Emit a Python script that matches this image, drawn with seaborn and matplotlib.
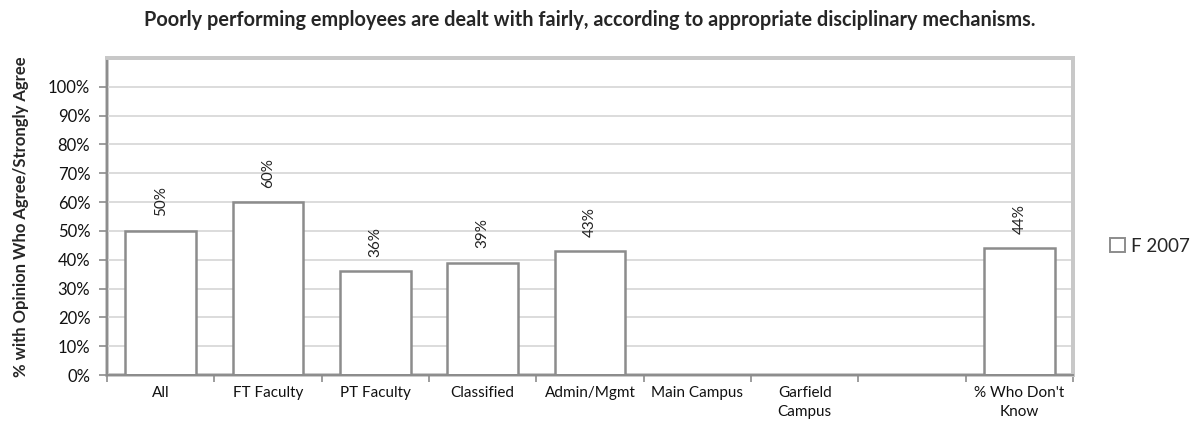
import numpy as np
import pandas as pd
import matplotlib
matplotlib.use("Agg")
import matplotlib.pyplot as plt
from matplotlib.patches import Patch, Rectangle
import seaborn as sns

# Survey question results
title = "Poorly performing employees are dealt with fairly, according to appropriate disciplinary mechanisms."
categories = ["All", "FT Faculty", "PT Faculty", "Classified", "Admin/Mgmt",
              "Main Campus", "Garfield\nCampus", " ", "% Who Don't\nKnow"]
values = [50, 60, 36, 39, 43, np.nan, np.nan, np.nan, 44]
series_name = "F 2007"
y_ticks = [0, 10, 20, 30, 40, 50, 60, 70, 80, 90, 100]
y_label = "% with Opinion Who Agree/Strongly Agree"

df = pd.DataFrame({"Group": categories, "Pct": values, "Survey": series_name})

sns.set_theme(style="white")
plt.rcParams["font.family"] = ["Lato", "DejaVu Sans"]

fig = plt.figure(figsize=(12.04, 4.34), dpi=100)
ax = fig.add_axes([107 / 1204, 1 - 375 / 434, (1073 - 107) / 1204, (375 - 58) / 434])

edge = "#8c8c8c"
sns.barplot(data=df, x="Group", y="Pct", hue="Survey", order=categories,
            width=0.66, color="white", palette=["white"], edgecolor=edge,
            linewidth=1.8, legend=False, ax=ax)

ax.set_ylim(0, 110)
ax.set_xlim(-0.5, len(categories) - 0.5)
ax.set_yticks(y_ticks)
ax.set_yticklabels([f"{t}%" for t in y_ticks], fontsize=12, color="#111111")
ax.yaxis.grid(True, color="#d9d9d9", linewidth=1.3)
ax.set_axisbelow(True)

# category labels at centres, tick marks on category boundaries
ax.set_xticks(range(len(categories)))
ax.set_xticklabels(categories, fontsize=11, linespacing=1.45, color="#111111")
ax.tick_params(axis="x", which="major", length=0, pad=8)
ax.set_xticks(np.arange(-0.5, len(categories), 1.0), minor=True)
ax.tick_params(axis="x", which="minor", length=5, width=1.2, color=edge, direction="out")
ax.tick_params(axis="y", length=6, width=1.2, color=edge, direction="out", pad=6)
ax.xaxis.set_ticks_position("bottom")
ax.yaxis.set_ticks_position("left")

ax.set_xlabel("")
ax.set_ylabel(y_label, fontsize=12, fontweight="bold", labelpad=14)

# plot-area border plus darker value/category axes
for side in ["top", "right"]:
    ax.spines[side].set_color("#c8c8c8")
    ax.spines[side].set_linewidth(2.8)
ax.spines["left"].set_color(edge)
ax.spines["left"].set_linewidth(1.4)
ax.spines["bottom"].set_color(edge)
ax.spines["bottom"].set_linewidth(1.4)
ax.add_patch(Rectangle((0, 0), 1, 1, transform=ax.transAxes, fill=False,
                       edgecolor="#c8c8c8", linewidth=2.8, zorder=0.5, clip_on=False))

# value labels
for i, v in enumerate(values):
    if not np.isnan(v):
        ax.text(i, v + 5, f"{v:.0f}%", rotation=90, ha="center", va="bottom",
                fontsize=11, color="#222222")

fig.text(0.49, 0.953, title, ha="center", va="center", fontsize=14.3, fontweight="bold")

handle = Patch(facecolor="white", edgecolor=edge, linewidth=1.4)
fig.legend([handle], [series_name], loc="center left", bbox_to_anchor=(1093 / 1204, 1 - 246 / 434),
           frameon=False, fontsize=13.5, handlelength=0.8, handleheight=0.8, handletextpad=0.35)

fig.savefig("out.png", dpi=100, facecolor="white")
